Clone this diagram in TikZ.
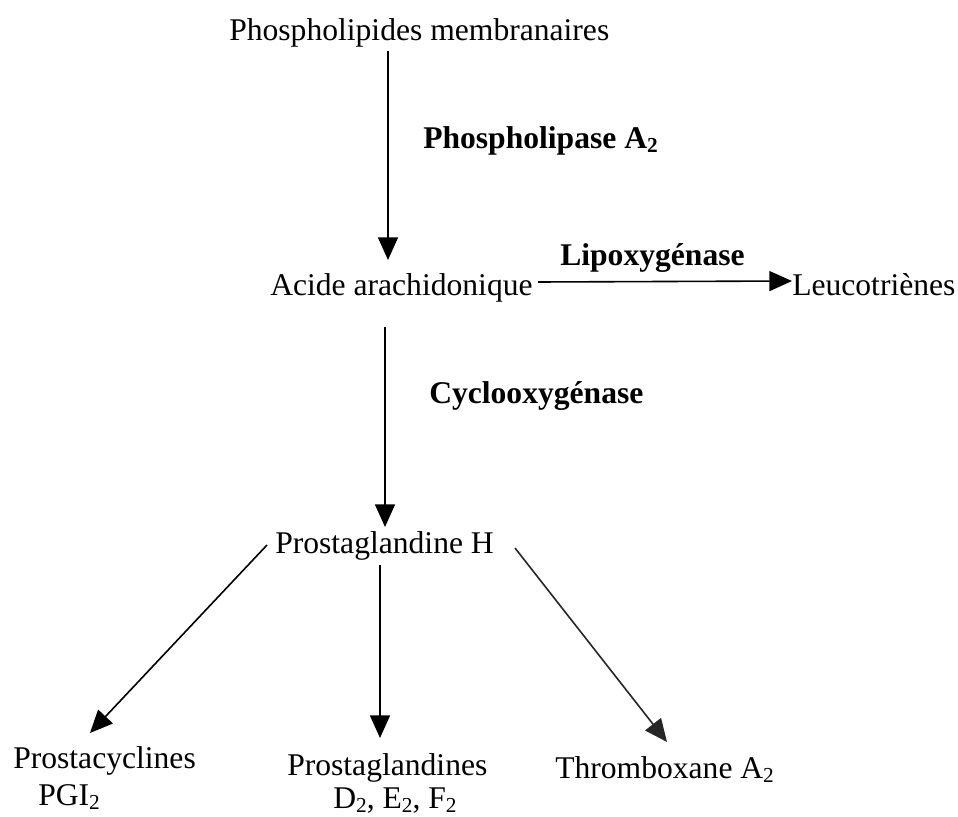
\documentclass[tikz,border=0pt]{standalone}
\usepackage{fontspec}
\setmainfont{Liberation Serif}
\usetikzlibrary{arrows.meta,calc}
\newcommand\sbtwo{\raisebox{-0.32ex}{\fontsize{16}{16}\selectfont 2}}
\begin{document}
\begin{tikzpicture}[x=0.75pt,y=-0.75pt,
  lbl/.style={inner sep=0pt,anchor=base west,font=\fontsize{23.7}{28}\selectfont},
  enz/.style={lbl,font=\fontsize{23.7}{28}\selectfont\bfseries},
  arr/.style={line width=1.2pt,-{Triangle[length=17pt,width=15pt]}}]
\useasboundingbox (0,0) rectangle (958,817);
\node[lbl] (phos) at (229,41) {Phospholipides membranaires};
\node[enz] (pla2) at (423,148) {Phospholipase A\sbtwo};
\node[lbl] (acide) at (270,295) {Acide arachidonique};
\node[enz] (lipo) at (560,265) {Lipoxygénase};
\node[lbl] (leuco) at (792,295) {Leucotriènes};
\node[enz] (cox) at (429,403) {Cyclooxygénase};
\node[lbl] (pgh) at (275,553) {Prostaglandine H};
\node[lbl] (prostacyc) at (13,768) {Prostacyclines};
\node[lbl] (pgi) at (38,805) {PGI\sbtwo};
\node[lbl] (prostag) at (287,775) {Prostaglandines};
\node[lbl] (def) at (333,808) {D\sbtwo, E\sbtwo, F\sbtwo};
\node[lbl] (thromb) at (555,778) {Thromboxane A\sbtwo};
\draw[arr] ($(phos.base west)+(159,10)$) -- ($(acide.base west)+(118,-35)$);
\draw[arr] ($(acide.base west)+(115,32)$) -- ($(pgh.base west)+(110,-26)$);
\draw[arr] ($(acide.base west)+(268,-13)$) -- ($(leuco.base west)+(0,-14)$);
\draw[arr] ($(pgh.base west)+(-8,-8)$) -- ($(prostacyc.base west)+(77,-35)$);
\draw[arr] ($(pgh.base west)+(105,12)$) -- ($(prostag.base west)+(93,-37)$);
\draw[arr,black!85] ($(pgh.base west)+(240,-5)$) -- ($(thromb.base west)+(112,-36)$);
\end{tikzpicture}
\end{document}
